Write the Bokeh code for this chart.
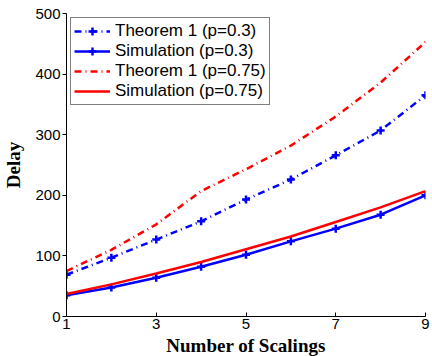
from bokeh.plotting import figure
from bokeh.models import Range1d, FixedTicker
from bokeh.embed import file_html
from bokeh.resources import INLINE

scalings = [1, 2, 3, 4, 5, 6, 7, 8, 9]
theorem_p03 = [69, 97, 127, 157, 193, 226, 266, 307, 365]
sim_p03 = [35, 48, 64, 82, 102, 124, 145, 168, 200]
theorem_p075 = [75, 110, 152, 207, 243, 282, 330, 386, 453]
sim_p075 = [37, 53, 71, 90, 111, 132, 156, 180, 207]

x_ticks = [1, 3, 5, 7, 9]
y_ticks = [0, 100, 200, 300, 400, 500]

p = figure(frame_width=359, frame_height=303, output_backend="svg", toolbar_location=None,
           x_range=Range1d(1, 9), y_range=Range1d(0, 500),
           min_border_left=66, min_border_right=6, min_border_top=13, min_border_bottom=10)
p.outline_line_color = None
p.grid.visible = False
p.background_fill_color = "white"

BLUE = "#0000FF"
RED = "#FF0000"
dashdot = "7 4 1 4"

p.line(scalings, theorem_p03, line_color=BLUE, line_width=2.5, line_dash=dashdot,
       legend_label="Theorem 1 (p=0.3)")
p.scatter(scalings, theorem_p03, marker="cross", size=8, line_color=BLUE, line_width=2.5,
          legend_label="Theorem 1 (p=0.3)")
p.line(scalings, sim_p03, line_color=BLUE, line_width=2.5, legend_label="Simulation (p=0.3)")
p.scatter(scalings, sim_p03, marker="cross", size=8, line_color=BLUE, line_width=2.5,
          legend_label="Simulation (p=0.3)")
p.line(scalings, theorem_p075, line_color=RED, line_width=2.5, line_dash=dashdot,
       legend_label="Theorem 1 (p=0.75)")
p.line(scalings, sim_p075, line_color=RED, line_width=2.5, legend_label="Simulation (p=0.75)")

for ax in (p.xaxis[0], p.yaxis[0]):
    ax.axis_line_color = "black"
    ax.axis_line_width = 1
    ax.major_tick_line_color = "black"
    ax.minor_tick_line_color = None
    ax.major_label_text_font = "Liberation Sans"
    ax.major_label_text_font_size = "15px"
    ax.major_label_text_color = "black"
    ax.axis_label_text_font = "Liberation Serif"
    ax.axis_label_text_font_style = "bold"
    ax.axis_label_text_font_size = "19px"
    ax.axis_label_text_color = "black"

p.xaxis.ticker = FixedTicker(ticks=x_ticks)
p.yaxis.ticker = FixedTicker(ticks=y_ticks)
p.xaxis.major_tick_in = 4
p.xaxis.major_tick_out = 0
p.yaxis.major_tick_in = 0
p.yaxis.major_tick_out = 4
p.xaxis.major_label_standoff = 2
p.yaxis.major_label_standoff = 2
p.xaxis.axis_label = "Number of Scalings"
p.yaxis.axis_label = "Delay"
p.xaxis.axis_label_standoff = 3
p.yaxis.axis_label_standoff = 8

lg = p.legend[0]
lg.location = "top_left"
lg.margin = 4
lg.padding = 3
lg.spacing = 0
lg.label_height = 20
lg.glyph_height = 20
lg.glyph_width = 36
lg.label_standoff = 5
lg.label_text_font = "Liberation Sans"
lg.label_text_font_size = "17px"
lg.label_text_color = "black"
lg.border_line_color = "black"
lg.border_line_width = 1
lg.background_fill_alpha = 1

open("out.html", "w").write(file_html(p, INLINE))
